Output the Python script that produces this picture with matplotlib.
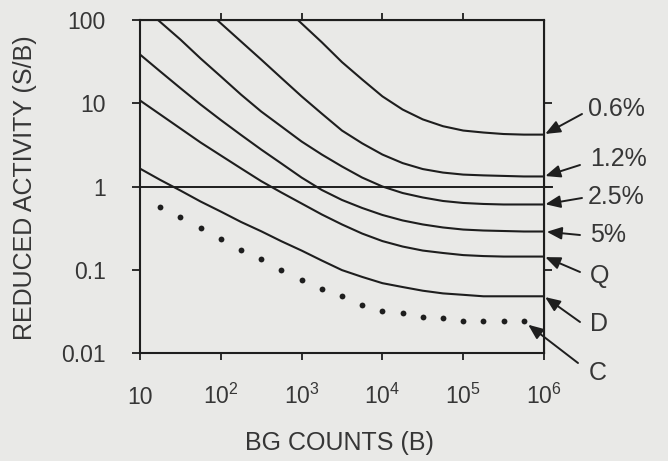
import matplotlib
matplotlib.use("Agg")
import matplotlib.pyplot as plt

plt.rcParams['font.family'] = ['Liberation Sans', 'DejaVu Sans']
plt.rcParams['mathtext.default'] = 'regular'

# values (x: BG counts, y: reduced activity S/B)
bg = [10, 17.8, 31.6, 56.2, 100, 178, 316, 562, 1000, 1780, 3160, 5620,
      1e4, 1.78e4, 3.16e4, 5.62e4, 1e5, 1.78e5, 3.16e5, 5.62e5, 1e6]

x_06 = [900, 1780, 3160, 5620, 1e4, 1.78e4, 3.16e4, 5.62e4, 1e5, 1.78e5, 3.16e5, 5.62e5, 1e6]
y_06 = [100, 54, 31.2, 19.3, 12.1, 8.4, 6.4, 5.3, 4.7, 4.45, 4.27, 4.2, 4.2]

x_12 = [90, 178, 316, 562, 1000, 1780, 3160, 5620, 1e4, 1.78e4, 3.16e4, 5.62e4,
        1e5, 1.78e5, 3.16e5, 5.62e5, 1e6]
y_12 = [100, 55.2, 33.5, 20.1, 12.1, 7.5, 4.7, 3.3, 2.42, 1.91, 1.62, 1.47,
        1.39, 1.36, 1.34, 1.32, 1.32]

x_25 = [16.7, 31.6, 56.2, 100, 178, 316, 562, 1000, 1780, 3160, 5620, 1e4,
        1.78e4, 3.16e4, 5.62e4, 1e5, 1.78e5, 3.16e5, 5.62e5, 1e6]
y_25 = [100, 58.3, 34.5, 21, 12.7, 7.96, 5.26, 3.47, 2.42, 1.74, 1.28, 1.0,
        0.835, 0.738, 0.67, 0.634, 0.617, 0.608, 0.608, 0.608]

y_5 = [38.5, 24.1, 15.2, 9.66, 6.29, 4.16, 2.78, 1.89, 1.28, 0.908, 0.689, 0.552,
       0.455, 0.391, 0.35, 0.322, 0.304, 0.296, 0.292, 0.288, 0.288]
y_q = [10.8, 7.33, 4.98, 3.38, 2.36, 1.65, 1.16, 0.847, 0.625, 0.461, 0.35, 0.272,
       0.221, 0.19, 0.17, 0.159, 0.150, 0.146, 0.144, 0.144, 0.144]
y_d = [1.64, 1.2, 0.895, 0.66, 0.50, 0.375, 0.29, 0.22, 0.17, 0.129, 0.099, 0.082,
       0.069, 0.062, 0.056, 0.052, 0.050, 0.048, 0.048, 0.048, 0.048]
# dotted curve C, one dot per quarter decade from 10^1.25 to 10^5.75
x_c = bg[1:20]
y_c = [0.56, 0.425, 0.313, 0.231, 0.175, 0.136, 0.098, 0.076, 0.058, 0.048,
       0.038, 0.032, 0.030, 0.027, 0.026, 0.024, 0.024, 0.024, 0.024]

xticks = [10, 1e2, 1e3, 1e4, 1e5, 1e6]
xlabels = ['10', '$10^{2}$', '$10^{3}$', '$10^{4}$', '$10^{5}$', '$10^{6}$']
yticks = [0.01, 0.1, 1, 10, 100]
ylabels = ['0.01', '0.1', '1', '10', '100']

paper = '#e9e9e7'
ink = '#1e1e1e'
txt = '#363636'

fig = plt.figure(figsize=(6.68, 4.61), dpi=100, facecolor=paper)
ax = fig.add_axes([140 / 668, 1 - 353 / 461, 404 / 668, 333 / 461], facecolor=paper)

ax.set_xscale('log')
ax.set_yscale('log')
ax.set_xlim(10, 1e6)
ax.set_ylim(0.01, 100)

lw = 1.5
ax.plot(x_06, y_06, color=ink, lw=lw)
ax.plot(x_12, y_12, color=ink, lw=lw)
ax.plot(x_25, y_25, color=ink, lw=lw)
ax.plot(bg, y_5, color=ink, lw=lw)
ax.plot(bg, y_q, color=ink, lw=lw)
ax.plot(bg, y_d, color=ink, lw=lw)
ax.plot(x_c, y_c, 'o', color=ink, ms=4.2, mec='none')
ax.axhline(1, color=ink, lw=1.4, xmin=0, xmax=1.02, clip_on=False)

for s in ax.spines.values():
    s.set_linewidth(1.5)
    s.set_color(ink)

ax.set_xticks(xticks)
ax.set_xticklabels(xlabels, va='baseline')
ax.set_yticks(yticks)
ax.set_yticklabels(ylabels)
ax.minorticks_off()
ax.tick_params(axis='x', direction='out', length=5, width=1.3, color=ink,
               labelsize=16.5, labelcolor=txt, pad=32)
ax.tick_params(axis='y', direction='out', length=5.5, width=1.3, color=ink,
               labelsize=16.5, labelcolor=txt, pad=19)

top = ax.secondary_xaxis('top')
top.set_xticks([1e2, 1e3, 1e4, 1e5])
top.set_xticklabels([])
top.minorticks_off()
top.tick_params(direction='out', length=5, width=1.3, color=ink)
right = ax.secondary_yaxis('right')
right.set_yticks([0.1, 1, 10])
right.set_yticklabels([])
right.minorticks_off()
right.tick_params(direction='out', length=6, width=1.3, color=ink)

fig.text(25 / 668, 1 - 188 / 461, 'REDUCED ACTIVITY (S/B)', rotation=90,
         ha='center', va='center', fontsize=18, color=txt)
fig.text(339 / 668, 1 - 443 / 461, 'BG COUNTS (B)', ha='center', va='center',
         fontsize=18, color=txt)

# right-hand labels with arrows to the curve ends
labels = ['0.6%', '1.2%', '2.5%', '5%', 'Q', 'D', 'C']
ends = [(x_06[-1], y_06[-1]), (x_12[-1], y_12[-1]), (x_25[-1], y_25[-1]),
        (bg[-1], y_5[-1]), (bg[-1], y_q[-1]), (bg[-1], y_d[-1]), (x_c[-1], y_c[-1])]
label_pos = [(588, 109), (590, 159), (588, 197), (590, 235), (590, 276), (590, 324), (589, 373)]
tails = [(582, 114), (580, 165), (582, 198), (580, 235), (580, 272), (580, 322), (578, 363)]
shrink = [1, 1, 1, 2, 1, 1, 4]

for lab, end, pos, tail, sh in zip(labels, ends, label_pos, tails, shrink):
    ax.annotate('', xy=end, xycoords='data',
                xytext=(tail[0], 461 - tail[1]), textcoords='figure pixels',
                arrowprops=dict(arrowstyle='-|>,head_length=0.6,head_width=0.25',
                                mutation_scale=15, color=ink, lw=1.4,
                                shrinkA=0, shrinkB=sh),
                annotation_clip=False)
    fig.text(pos[0] / 668, 1 - pos[1] / 461, lab, ha='left', va='center',
             fontsize=18, color=txt)

fig.savefig('out.png', dpi=100, facecolor=paper)
